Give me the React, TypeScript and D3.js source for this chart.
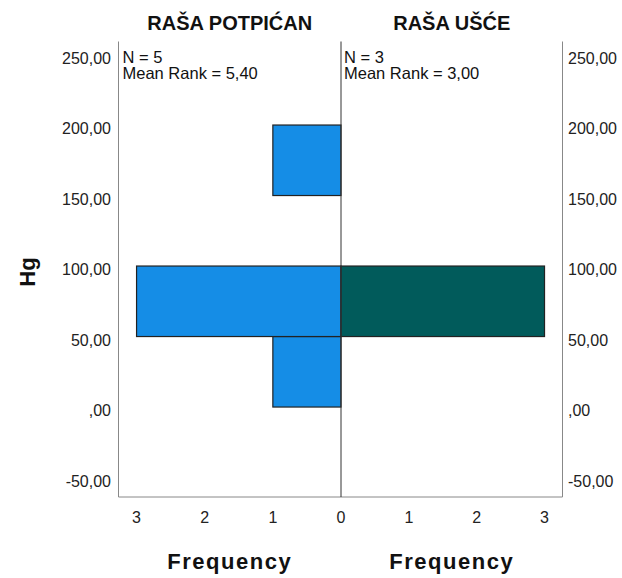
import React from "react";
import * as d3 from "d3";

const groups = ["RAŠA POTPIĆAN", "RAŠA UŠĆE"];
const binStarts = [0, 50, 100, 150, 200];
const binWidth = 50;
const freqLeft = [1, 3, 0, 1, 0];
const freqRight = [0, 3, 0, 0, 0];
const statsLeft = ["N = 5", "Mean Rank = 5,40"];
const statsRight = ["N = 3", "Mean Rank = 3,00"];
const yTicks = [-50, 0, 50, 100, 150, 200, 250];
const xTicks = [0, 1, 2, 3];
const colors = ["#158de6", "#015b5b"];

const fmt = (v: number) => {
  const s = Math.abs(v).toFixed(2).replace(".", ",");
  const t = s.startsWith("0,") ? s.slice(1) : s;
  return (v < 0 ? "-" : "") + t;
};

export default function App() {
  const W = 622, H = 578;
  const left = 118.5, center = 341, right = 562.5, top = 40, bottom = 497;
  const frameTop = 41.5;
  const y = d3.scaleLinear().domain([-63.8, 260.3]).range([bottom, top]);
  const xL = d3.scaleLinear().domain([0, 3.265]).range([center, left]);
  const xR = d3.scaleLinear().domain([0, 3.265]).range([center, right]);
  const font = "Arial, 'Liberation Sans', sans-serif";

  const bars = (freq: number[], xs: d3.ScaleLinear<number, number>, color: string, key: string) =>
    freq.map((f, i) => {
      if (f === 0) return null;
      const y0 = y(binStarts[i] + binWidth);
      const y1 = y(binStarts[i]);
      const x0 = Math.min(xs(0), xs(f));
      const x1 = Math.max(xs(0), xs(f));
      return (
        <rect key={key + i} x={x0} y={y0} width={x1 - x0} height={y1 - y0}
          fill={color} stroke="#222" strokeWidth={1.2} />
      );
    });

  return (
    <svg width={W} height={H} style={{ position: "absolute", left: 0, top: 0 }} fontFamily={font}>
      <rect width={W} height={H} fill="#fff" />
      {bars(freqLeft, xL, colors[0], "l")}
      {bars(freqRight, xR, colors[1], "r")}
      <line x1={left} x2={left} y1={frameTop} y2={bottom} stroke="#888" strokeWidth={1} />
      <line x1={right} x2={right} y1={frameTop} y2={bottom} stroke="#888" strokeWidth={1} />
      <line x1={left} x2={right} y1={bottom} y2={bottom} stroke="#888" strokeWidth={1} />
      <line x1={center} x2={center} y1={frameTop} y2={bottom} stroke="#333" strokeWidth={1} />
      {yTicks.map((t) => (
        <g key={"y" + t}>
          <text x={111} y={y(t) + 3.5} dy="0.36em" textAnchor="end" fontSize={16} fill="#222">{fmt(t)}</text>
          <text x={568} y={y(t) + 3.5} dy="0.36em" textAnchor="start" fontSize={16} fill="#222">{fmt(t)}</text>
        </g>
      ))}
      {xTicks.map((t) => (
        <g key={"x" + t}>
          <text x={xL(t)} y={517.5} dy="0.36em" textAnchor="middle" fontSize={16} fill="#222">{t}</text>
          {t > 0 && <text x={xR(t)} y={517.5} dy="0.36em" textAnchor="middle" fontSize={16} fill="#222">{t}</text>}
        </g>
      ))}
      {statsLeft.map((s, i) => (
        <text key={"sl" + i} x={left + 4} y={62.5 + i * 16.8} fontSize={16.5} fill="#111">{s}</text>
      ))}
      {statsRight.map((s, i) => (
        <text key={"sr" + i} x={center + 3} y={62.5 + i * 16.8} fontSize={16.5} fill="#111">{s}</text>
      ))}
      <text x={(left + center) / 2} y={30} textAnchor="middle" fontSize={20} fontWeight="bold" fill="#111">{groups[0]}</text>
      <text x={(center + right) / 2} y={30} textAnchor="middle" fontSize={20} fontWeight="bold" fill="#111">{groups[1]}</text>
      <text x={(left + center) / 2} y={569} textAnchor="middle" fontSize={22} fontWeight="bold" letterSpacing={1.5} fill="#111">Frequency</text>
      <text x={(center + right) / 2} y={569} textAnchor="middle" fontSize={22} fontWeight="bold" letterSpacing={1.5} fill="#111">Frequency</text>
      <text transform={`translate(35, 272) rotate(-90)`} textAnchor="middle" fontSize={22} fontWeight="bold" fill="#111">Hg</text>
    </svg>
  );
}
